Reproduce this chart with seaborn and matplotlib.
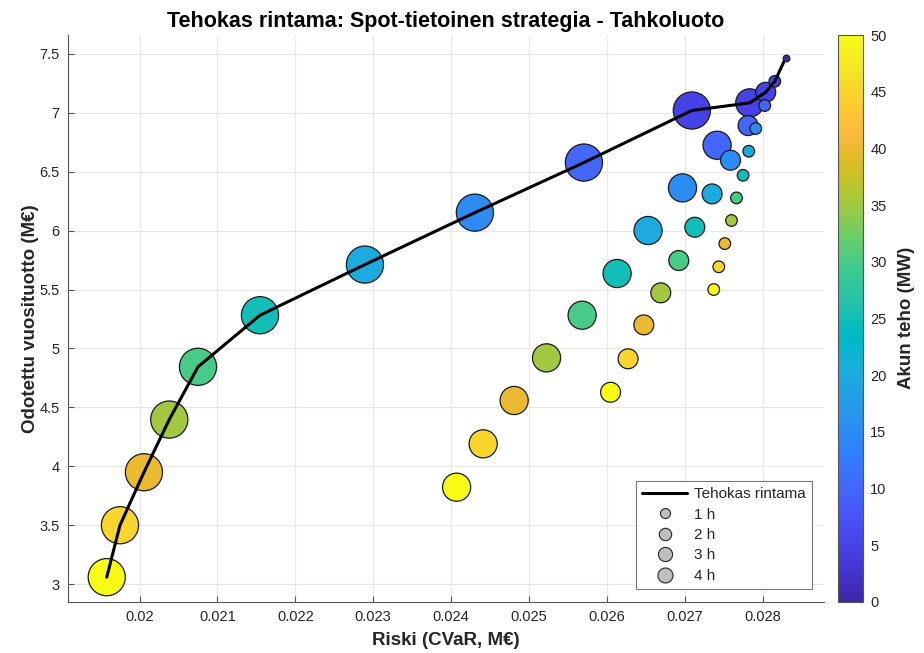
import numpy as np
import pandas as pd
import matplotlib
matplotlib.use("Agg")
import matplotlib.pyplot as plt
import seaborn as sns
from matplotlib.colors import LinearSegmentedColormap, Normalize
from matplotlib.cm import ScalarMappable
from matplotlib.lines import Line2D

# Battery power levels (MW) and storage durations (h)
power_mw = [5, 10, 15, 20, 25, 30, 35, 40, 45, 50]
durations_h = [1, 2, 3, 4]

# Risk (CVaR, M€) and expected annual return (M€), ordered by power_mw
risk_1h = [0.028157, 0.028028, 0.027913, 0.027823, 0.027750, 0.027665, 0.027601, 0.027515, 0.027438, 0.027373]
ret_1h = [7.268, 7.062, 6.867, 6.674, 6.470, 6.278, 6.086, 5.890, 5.693, 5.500]
risk_2h = [0.028041, 0.027814, 0.027588, 0.027352, 0.027130, 0.026924, 0.026693, 0.026475, 0.026273, 0.026048]
ret_2h = [7.175, 6.892, 6.598, 6.312, 6.029, 5.746, 5.472, 5.200, 4.912, 4.628]
risk_3h = [0.027836, 0.027416, 0.026972, 0.026530, 0.026132, 0.025683, 0.025226, 0.024810, 0.024412, 0.024071]
ret_3h = [7.085, 6.725, 6.363, 6.001, 5.636, 5.282, 4.920, 4.558, 4.190, 3.822]
risk_4h = [0.027092, 0.025706, 0.024306, 0.022894, 0.021546, 0.020750, 0.020381, 0.020056, 0.019748, 0.019578]
ret_4h = [7.020, 6.578, 6.153, 5.712, 5.282, 4.844, 4.396, 3.949, 3.499, 3.058]

# Case without a battery
risk_0 = [0.028298]
ret_0 = [7.467]

x_ticks = [0.020, 0.021, 0.022, 0.023, 0.024, 0.025, 0.026, 0.027, 0.028]
x_tick_labels = ["0.02", "0.021", "0.022", "0.023", "0.024", "0.025", "0.026", "0.027", "0.028"]
y_ticks = [3, 3.5, 4, 4.5, 5, 5.5, 6, 6.5, 7, 7.5]
y_tick_labels = ["3", "3.5", "4", "4.5", "5", "5.5", "6", "6.5", "7", "7.5"]
cbar_ticks = [0, 5, 10, 15, 20, 25, 30, 35, 40, 45, 50]

# parula colormap (64 entries)
parula_rgb = [
    [0.2422, 0.1504, 0.6603], [0.2504, 0.1650, 0.7076], [0.2578, 0.1818, 0.7511], [0.2647, 0.1978, 0.7952],
    [0.2706, 0.2147, 0.8364], [0.2751, 0.2342, 0.8710], [0.2783, 0.2559, 0.8991], [0.2803, 0.2782, 0.9221],
    [0.2813, 0.3006, 0.9414], [0.2810, 0.3228, 0.9579], [0.2795, 0.3447, 0.9717], [0.2760, 0.3667, 0.9829],
    [0.2699, 0.3892, 0.9906], [0.2602, 0.4123, 0.9952], [0.2440, 0.4358, 0.9988], [0.2206, 0.4603, 0.9973],
    [0.1963, 0.4847, 0.9892], [0.1834, 0.5074, 0.9798], [0.1786, 0.5289, 0.9682], [0.1764, 0.5499, 0.9520],
    [0.1687, 0.5703, 0.9359], [0.1540, 0.5902, 0.9218], [0.1460, 0.6091, 0.9079], [0.1380, 0.6276, 0.8973],
    [0.1248, 0.6459, 0.8883], [0.1113, 0.6635, 0.8763], [0.0952, 0.6798, 0.8598], [0.0689, 0.6948, 0.8394],
    [0.0297, 0.7082, 0.8163], [0.0036, 0.7203, 0.7917], [0.0067, 0.7312, 0.7660], [0.0433, 0.7411, 0.7394],
    [0.0964, 0.7500, 0.7120], [0.1408, 0.7584, 0.6842], [0.1717, 0.7670, 0.6554], [0.1938, 0.7758, 0.6251],
    [0.2161, 0.7843, 0.5923], [0.2470, 0.7918, 0.5567], [0.2906, 0.7973, 0.5188], [0.3406, 0.8008, 0.4789],
    [0.3909, 0.8029, 0.4354], [0.4456, 0.8024, 0.3909], [0.5044, 0.7993, 0.3480], [0.5616, 0.7942, 0.3045],
    [0.6174, 0.7876, 0.2612], [0.6720, 0.7793, 0.2227], [0.7242, 0.7698, 0.1910], [0.7738, 0.7598, 0.1646],
    [0.8203, 0.7498, 0.1535], [0.8634, 0.7406, 0.1596], [0.9035, 0.7330, 0.1774], [0.9393, 0.7288, 0.2100],
    [0.9728, 0.7298, 0.2394], [0.9956, 0.7434, 0.2371], [0.9970, 0.7659, 0.2199], [0.9952, 0.7893, 0.2028],
    [0.9892, 0.8136, 0.1885], [0.9786, 0.8386, 0.1766], [0.9676, 0.8639, 0.1643], [0.9610, 0.8890, 0.1537],
    [0.9597, 0.9135, 0.1423], [0.9628, 0.9373, 0.1265], [0.9691, 0.9606, 0.1064], [0.9769, 0.9839, 0.0805],
]
parula = LinearSegmentedColormap.from_list("parula", parula_rgb, N=256)
norm = Normalize(vmin=0, vmax=50)

# Long-form table; 4 h first so the smaller bubbles sit on top
risk_by_h = {1: risk_1h, 2: risk_2h, 3: risk_3h, 4: risk_4h}
ret_by_h = {1: ret_1h, 2: ret_2h, 3: ret_3h, 4: ret_4h}
rows = []
for h in [4, 3, 2, 1]:
    for p, r, e in zip(power_mw, risk_by_h[h], ret_by_h[h]):
        rows.append({"risk": r, "ret": e, "power": p, "hours": h})
df = pd.DataFrame(rows)
df0 = pd.DataFrame({"risk": risk_0, "ret": ret_0, "power": [0]})

# Efficient frontier: points not dominated in (lower risk, higher return)
all_pts = pd.concat([df[["risk", "ret"]], df0[["risk", "ret"]]]).sort_values("risk")
best = -np.inf
front = []
for r, e in zip(all_pts["risk"], all_pts["ret"]):
    if e > best:
        front.append((r, e))
        best = e
front = pd.DataFrame(front, columns=["risk", "ret"])

sns.set_theme(style="white")
plt.rcParams["font.family"] = ["Liberation Sans", "DejaVu Sans"]
text_col = "#262626"

fig = plt.figure(figsize=(9.24, 6.53), dpi=100)
ax = fig.add_axes([0.0733, 0.0786, 0.8188, 0.8678])
cax = fig.add_axes([0.9073, 0.0786, 0.0271, 0.8678])

size_map = {1: 70, 2: 205, 3: 410, 4: 715}
sns.scatterplot(data=df, x="risk", y="ret", hue="power", size="hours",
                sizes=size_map, palette=parula, hue_norm=norm,
                edgecolor="#1a1a1a", linewidth=0.9, alpha=1.0,
                legend=False, ax=ax, zorder=3)
sns.lineplot(data=front, x="risk", y="ret", color="black", linewidth=2.2,
             estimator=None, sort=False, ax=ax, zorder=4)
sns.scatterplot(data=df0, x="risk", y="ret", hue="power", palette=parula,
                hue_norm=norm, s=24, edgecolor="#1a1a1a", linewidth=0.8,
                legend=False, ax=ax, zorder=5)

ax.set_xlim(0.019077, 0.028793)
ax.set_ylim(2.850, 7.661)
ax.set_xticks(x_ticks)
ax.set_xticklabels(x_tick_labels)
ax.set_yticks(y_ticks)
ax.set_yticklabels(y_tick_labels)
ax.grid(True, color="#e8e8e8", linewidth=0.8)
ax.set_axisbelow(True)
for side in ["top", "right"]:
    ax.spines[side].set_visible(False)
for side in ["left", "bottom"]:
    ax.spines[side].set_color("#555555")
    ax.spines[side].set_linewidth(0.8)
ax.tick_params(direction="in", length=4, width=0.8, color="#555555",
               labelsize=10.5, labelcolor=text_col, pad=6,
               bottom=True, left=True)

ax.set_xlabel("Riski (CVaR, M€)", fontsize=13.5, fontweight="bold", color=text_col, labelpad=6)
ax.set_ylabel("Odotettu vuosituotto (M€)", fontsize=13.5, fontweight="bold", color=text_col, labelpad=0)
ax.set_title("Tehokas rintama: Spot-tietoinen strategia - Tahkoluoto",
             fontsize=15.5, fontweight="bold", color="black", pad=6)

# Colour bar for battery power
cb = fig.colorbar(ScalarMappable(norm=norm, cmap=parula), cax=cax, ticks=cbar_ticks)
cb.outline.set_edgecolor("#555555")
cb.outline.set_linewidth(0.8)
cax.tick_params(direction="in", length=3, width=0.8, color="#555555",
                labelsize=10.5, labelcolor=text_col, pad=5)
cb.set_label("Akun teho (MW)", fontsize=13.5, fontweight="bold", color=text_col, labelpad=8)

# Legend
handles = [Line2D([0], [0], color="black", linewidth=2.2, label="Tehokas rintama")]
for h, ms in zip(durations_h, [7.2, 8.9, 10.2, 10.8]):
    handles.append(Line2D([0], [0], linestyle="none", marker="o", markersize=ms,
                          markerfacecolor="#bfbfbf", markeredgecolor="#262626",
                          markeredgewidth=0.8, label=f"{h} h"))
leg = ax.legend(handles=handles, loc="lower right", bbox_to_anchor=(0.984, 0.0224),
                borderaxespad=0, fontsize=11, handlelength=3.0, handletextpad=0.45,
                labelspacing=0.42, borderpad=0.4, frameon=True, fancybox=False,
                framealpha=1)
leg.get_frame().set_edgecolor("#777777")
leg.get_frame().set_linewidth(0.8)
for t in leg.get_texts():
    t.set_color(text_col)

fig.savefig("out.png", dpi=100)
